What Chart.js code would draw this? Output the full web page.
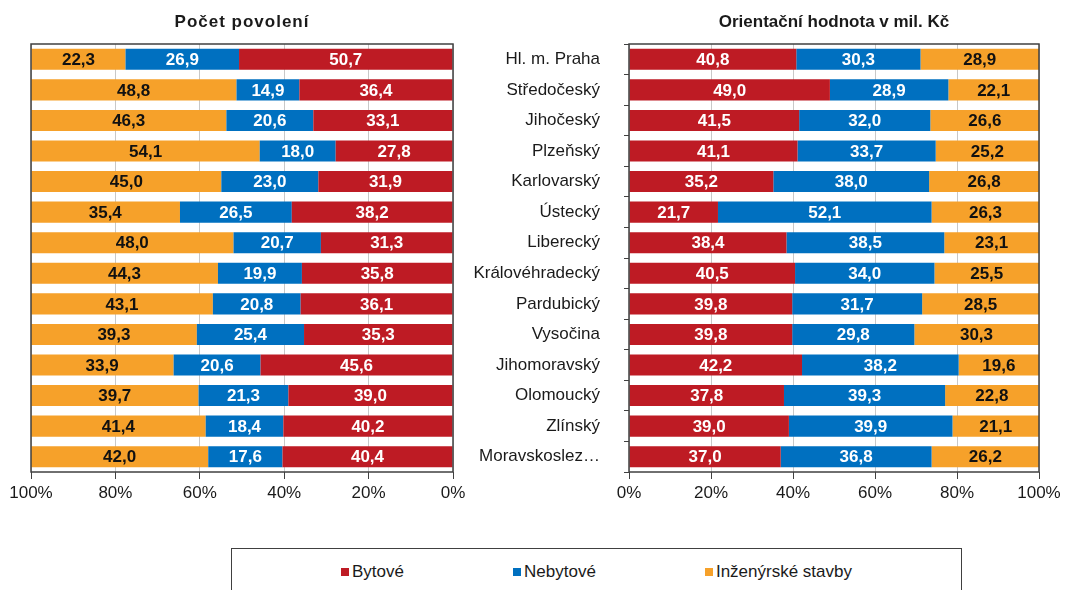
<!DOCTYPE html>
<html>
<head>
<meta charset="utf-8">
<script src="https://cdn.jsdelivr.net/npm/chart.js@4/dist/chart.umd.min.js"></script>
<style>
	body { margin: 0; background: #fff; font-family: 'Liberation Sans', Arial, sans-serif; }
	#wrap { position: relative; width: 1066px; height: 590px; overflow: hidden; }
	.pane { position: absolute; top: 0; height: 530px; }
	#legend {
		position: absolute; left: 231px; top: 548px; width: 731px; height: 60px;
		border: 1.5px solid #404040; box-sizing: border-box;
		display: flex; justify-content: space-evenly; align-items: flex-start;
		padding-top: 13px; font-size: 17px; color: #1a1a1a;
	}
	#legend span.item { display: flex; align-items: center; }
	#legend i { display: inline-block; width: 8px; height: 8px; margin-right: 3px; }
</style>
</head>
<body>
<div id="wrap">
	<div class="pane" style="left:0;width:470px"><canvas id="pocet"></canvas></div>
	<div class="pane" style="left:470px;width:596px"><canvas id="hodnota"></canvas></div>
	<div id="legend"></div>
</div>
<script>
var regions = [
	'Hl. m. Praha', 'Středočeský', 'Jihočeský', 'Plzeňský', 'Karlovarský',
	'Ústecký', 'Liberecký', 'Královéhradecký', 'Pardubický', 'Vysočina',
	'Jihomoravský', 'Olomoucký', 'Zlínský', 'Moravskoslez…'
];

var seriesNames = ['Bytové', 'Nebytové', 'Inženýrské stavby'];
var colours = ['#be1b24', '#0070c0', '#f6a12a'];
var labelColours = ['#fff', '#fff', '#111'];

var xTicks = [0, 20, 40, 60, 80, 100];

// Počet povolení (share in %)
var pocetBytove    = [50.7, 36.4, 33.1, 27.8, 31.9, 38.2, 31.3, 35.8, 36.1, 35.3, 45.6, 39.0, 40.2, 40.4];
var pocetNebytove  = [26.9, 14.9, 20.6, 18.0, 23.0, 26.5, 20.7, 19.9, 20.8, 25.4, 20.6, 21.3, 18.4, 17.6];
var pocetInzenyrske = [22.3, 48.8, 46.3, 54.1, 45.0, 35.4, 48.0, 44.3, 43.1, 39.3, 33.9, 39.7, 41.4, 42.0];

// Orientační hodnota v mil. Kč (share in %)
var hodnotaBytove    = [40.8, 49.0, 41.5, 41.1, 35.2, 21.7, 38.4, 40.5, 39.8, 39.8, 42.2, 37.8, 39.0, 37.0];
var hodnotaNebytove  = [30.3, 28.9, 32.0, 33.7, 38.0, 52.1, 38.5, 34.0, 31.7, 29.8, 38.2, 39.3, 39.9, 36.8];
var hodnotaInzenyrske = [28.9, 22.1, 26.6, 25.2, 26.8, 26.3, 23.1, 25.5, 28.5, 30.3, 19.6, 22.8, 21.1, 26.2];

Chart.defaults.font.family = "'Liberation Sans', Arial, sans-serif";
Chart.defaults.font.size = 17;
Chart.defaults.color = '#1a1a1a';

var frameAndLabels = {
	id: 'frameAndLabels',
	afterDatasetsDraw: function(chart, args, opts) {
		var ctx = chart.ctx;
		var area = chart.chartArea;

		ctx.save();
		ctx.font = 'bold 17px ' + Chart.defaults.font.family;
		ctx.textAlign = 'center';
		ctx.textBaseline = 'middle';
		chart.data.datasets.forEach(function(ds, i) {
			var meta = chart.getDatasetMeta(i);
			meta.data.forEach(function(bar, j) {
				var p = bar.getCenterPoint();
				ctx.fillStyle = labelColours[i];
				ctx.fillText(ds.data[j].toFixed(1).replace('.', ','), p.x, p.y + 1);
			});
		});

		// plot frame
		ctx.strokeStyle = '#404040';
		ctx.lineWidth = 1.5;
		ctx.strokeRect(area.left, area.top, area.right - area.left, area.bottom - area.top);

		// title centred over the plot
		ctx.fillStyle = '#1a1a1a';
		ctx.font = 'bold 17px ' + Chart.defaults.font.family;
		if (opts.spacing) {
			ctx.letterSpacing = opts.spacing + 'px';
		}
		ctx.fillText(opts.text, (area.left + area.right) / 2, 22);
		ctx.restore();
	}
};

function makeDatasets(values) {
	return values.map(function(v, i) {
		return {
			label: seriesNames[i],
			data: v,
			backgroundColor: colours[i],
			borderWidth: 0,
			categoryPercentage: 1,
			barPercentage: 0.69,
		};
	});
}

function xScale(reverse) {
	return {
		stacked: true,
		reverse: reverse,
		min: 0,
		max: 100,
		afterBuildTicks: function(scale) {
			scale.ticks = xTicks.map(function(v) { return { value: v }; });
		},
		afterFit: function(scale) {
			scale.height = 40;
		},
		ticks: {
			padding: 4,
			color: '#1a1a1a',
			callback: function(v) { return v + '%'; }
		},
		grid: {
			color: '#c8c8c8',
			tickColor: '#404040',
			tickLength: 7,
			lineWidth: 1,
		},
		border: { display: false }
	};
}

var pocetChart = new Chart(document.getElementById('pocet'), {
	type: 'bar',
	data: {
		labels: regions,
		datasets: makeDatasets([pocetBytove, pocetNebytove, pocetInzenyrske])
	},
	options: {
		indexAxis: 'y',
		responsive: true,
		maintainAspectRatio: false,
		animation: false,
		layout: { padding: { left: 31, right: 17, top: 44, bottom: 18 } },
		scales: {
			x: xScale(true),
			y: { stacked: true, display: false }
		},
		plugins: {
			legend: { display: false },
			tooltip: { enabled: false },
			frameAndLabels: { text: 'Počet povolení', spacing: 1 }
		}
	},
	plugins: [frameAndLabels]
});

var hodnotaChart = new Chart(document.getElementById('hodnota'), {
	type: 'bar',
	data: {
		labels: regions,
		datasets: makeDatasets([hodnotaBytove, hodnotaNebytove, hodnotaInzenyrske])
	},
	options: {
		indexAxis: 'y',
		responsive: true,
		maintainAspectRatio: false,
		animation: false,
		layout: { padding: { left: 0, right: 27, top: 44, bottom: 18 } },
		scales: {
			x: xScale(false),
			y: {
				stacked: true,
				afterFit: function(scale) {
					scale.width = 159;
				},
				ticks: { padding: 24, color: '#1a1a1a', autoSkip: false },
				grid: {
					offset: true,
					drawOnChartArea: false,
					tickColor: '#404040',
					tickLength: 5,
				},
				border: { display: false }
			}
		},
		plugins: {
			legend: { display: false },
			tooltip: { enabled: false },
			frameAndLabels: { text: 'Orientační hodnota v mil. Kč' }
		}
	},
	plugins: [frameAndLabels]
});

// shared legend box
var legend = document.getElementById('legend');
seriesNames.forEach(function(name, i) {
	var item = document.createElement('span');
	item.className = 'item';
	item.innerHTML = '<i style="background:' + colours[i] + '"></i>' + name;
	legend.appendChild(item);
});
</script>
</body>
</html>
